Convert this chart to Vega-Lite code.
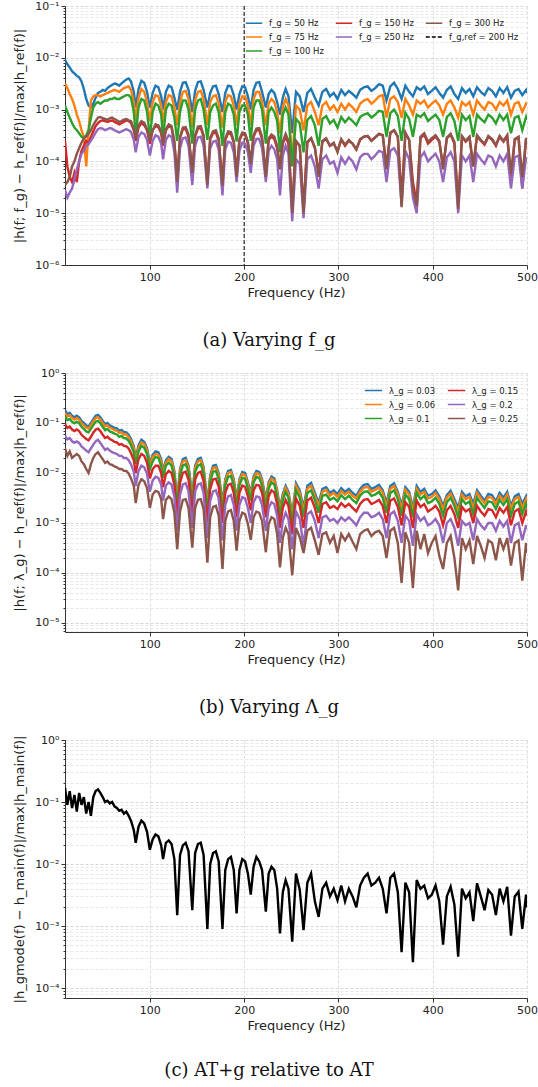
{
"$schema": "https://vega.github.io/schema/vega-lite/v6.json",
"padding": {"left": 13, "top": 0, "right": 0, "bottom": 0},
"config": {
 "view": {"stroke": null},
 "font": "DejaVu Sans",
 "axis": {"labelFont": "DejaVu Sans", "labelFontSize": 11, "labelColor": "#222", "titleFont": "DejaVu Sans", "titleFontSize": 13, "titleFontWeight": "normal", "titleColor": "#222", "domainColor": "#333", "tickColor": "#333", "labelPadding": 2, "tickSize": 4, "gridDash": [3, 2]},
 "axisX": {"titlePadding": 4},
 "axisY": {"titlePadding": 8}
},
"resolve": {"scale": {"color": "independent", "strokeDash": "independent"}, "legend": {"color": "independent", "strokeDash": "independent"}},
"datasets": {
 "names": [
  {"key": "a1", "name": "f_g = 50 Hz"}, {"key": "a2", "name": "f_g = 75 Hz"}, {"key": "a3", "name": "f_g = 100 Hz"},
  {"key": "a4", "name": "f_g = 150 Hz"}, {"key": "a5", "name": "f_g = 250 Hz"}, {"key": "a6", "name": "f_g = 300 Hz"},
  {"key": "b1", "name": "λ_g = 0.03"}, {"key": "b2", "name": "λ_g = 0.06"}, {"key": "b3", "name": "λ_g = 0.1"},
  {"key": "b4", "name": "λ_g = 0.15"}, {"key": "b5", "name": "λ_g = 0.2"}, {"key": "b6", "name": "λ_g = 0.25"}
 ],
 "ref": [{"f": 200, "name": "f_g,ref = 200 Hz"}],
 "D": [
{"f":10,"a1":9e-3,"a2":3.2e-3,"a3":1.2e-3,"a4":2.5e-4,"a5":2.8e-5,"a6":3.5e-5,"b1":0.18,"b2":0.16,"b3":0.135,"b4":0.095,"b5":0.056,"b6":0.031,"c":0.17},
{"f":12.5,"a1":7.5e-3,"a2":2.6e-3,"a3":9e-4,"a4":8e-5,"a5":2e-5,"a6":4e-5,"b1":0.15,"b2":0.135,"b3":0.114,"b4":0.08,"b5":0.047,"b6":0.022,"c":0.09},
{"f":15,"a1":6.5e-3,"a2":2e-3,"a3":7e-4,"a4":5e-5,"a5":2.5e-5,"a6":5e-5,"b1":0.16,"b2":0.144,"b3":0.12,"b4":0.085,"b5":0.05,"b6":0.027,"c":0.15},
{"f":17.5,"a1":5.5e-3,"a2":1.6e-3,"a3":5.5e-4,"a4":4e-5,"a5":3e-5,"a6":8e-5,"b1":0.14,"b2":0.126,"b3":0.106,"b4":0.074,"b5":0.043,"b6":0.02,"c":0.08},
{"f":20,"a1":5e-3,"a2":1.2e-3,"a3":4.5e-4,"a4":6e-5,"a5":4.5e-5,"a6":1e-4,"b1":0.13,"b2":0.117,"b3":0.099,"b4":0.069,"b5":0.04,"b6":0.022,"c":0.13},
{"f":22.5,"a1":4.5e-3,"a2":8e-4,"a3":4e-4,"a4":4e-5,"a5":7e-5,"a6":1.4e-4,"b1":0.14,"b2":0.126,"b3":0.106,"b4":0.074,"b5":0.043,"b6":0.024,"c":0.07},
{"f":25,"a1":4.2e-3,"a2":6e-4,"a3":3.5e-4,"a4":1e-4,"a5":1e-4,"a6":1.8e-4,"b1":0.13,"b2":0.117,"b3":0.099,"b4":0.069,"b5":0.04,"b6":0.022,"c":0.14},
{"f":27.5,"a1":3.5e-3,"a2":4e-4,"a3":3e-4,"a4":1.6e-4,"a5":1.4e-4,"a6":2.3e-4,"b1":0.11,"b2":0.099,"b3":0.084,"b4":0.058,"b5":0.034,"b6":0.017,"c":0.09},
{"f":30,"a1":2.5e-3,"a2":3e-4,"a3":2.8e-4,"a4":2e-4,"a5":1.6e-4,"a6":2.8e-4,"b1":0.1,"b2":0.09,"b3":0.076,"b4":0.053,"b5":0.031,"b6":0.015,"c":0.12},
{"f":32.5,"a1":1.6e-3,"a2":8e-5,"a3":3.2e-4,"a4":2.5e-4,"a5":2e-4,"a6":3e-4,"b1":0.09,"b2":0.081,"b3":0.068,"b4":0.048,"b5":0.028,"b6":0.012,"c":0.065},
{"f":35,"a1":1.2e-3,"a2":4e-4,"a3":4e-4,"a4":2.2e-4,"a5":2.2e-4,"a6":3.4e-4,"b1":0.085,"b2":0.077,"b3":0.065,"b4":0.045,"b5":0.026,"b6":0.01,"c":0.1},
{"f":37.5,"a1":1.1e-3,"a2":1.5e-3,"a3":7e-4,"a4":3e-4,"a5":2.5e-4,"a6":4e-4,"b1":0.1,"b2":0.09,"b3":0.076,"b4":0.053,"b5":0.031,"b6":0.015,"c":0.06},
{"f":40,"a1":1.3e-3,"a2":1.8e-3,"a3":1.1e-3,"a4":3.8e-4,"a5":3e-4,"a6":5e-4,"b1":0.12,"b2":0.108,"b3":0.091,"b4":0.064,"b5":0.037,"b6":0.02,"c":0.12},
{"f":42.5,"a1":1.7e-3,"a2":1.9e-3,"a3":1.3e-3,"a4":4.8e-4,"a5":3.6e-4,"a6":6e-4,"b1":0.14,"b2":0.126,"b3":0.106,"b4":0.074,"b5":0.043,"b6":0.024,"c":0.15},
{"f":45,"a1":2.1e-3,"a2":1.9e-3,"a3":1.4e-3,"a4":5.5e-4,"a5":4.2e-4,"a6":7e-4,"b1":0.145,"b2":0.13,"b3":0.11,"b4":0.077,"b5":0.046,"b6":0.026,"c":0.16},
{"f":47.5,"a1":2.2e-3,"a2":1.8e-3,"a3":1.3e-3,"a4":6e-4,"a5":4.4e-4,"a6":7.2e-4,"b1":0.13,"b2":0.117,"b3":0.099,"b4":0.069,"b5":0.04,"b6":0.022,"c":0.14},
{"f":50,"a1":2.4e-3,"a2":1.9e-3,"a3":1.4e-3,"a4":6.2e-4,"a5":4.3e-4,"a6":6.8e-4,"b1":0.11,"b2":0.099,"b3":0.084,"b4":0.058,"b5":0.034,"b6":0.019,"c":0.12},
{"f":52.5,"a1":2.3e-3,"a2":2e-3,"a3":1.5e-3,"a4":6e-4,"a5":4e-4,"a6":6.6e-4,"b1":0.095,"b2":0.086,"b3":0.072,"b4":0.05,"b5":0.029,"b6":0.016,"c":0.1},
{"f":55,"a1":2.6e-3,"a2":2.1e-3,"a3":1.5e-3,"a4":5.8e-4,"a5":4.2e-4,"a6":6.4e-4,"b1":0.1,"b2":0.09,"b3":0.076,"b4":0.053,"b5":0.031,"b6":0.017,"c":0.105},
{"f":57.5,"a1":2.8e-3,"a2":2.2e-3,"a3":1.6e-3,"a4":6e-4,"a5":4.4e-4,"a6":6.8e-4,"b1":0.09,"b2":0.081,"b3":0.068,"b4":0.048,"b5":0.028,"b6":0.015,"c":0.095},
{"f":60,"a1":3e-3,"a2":2.3e-3,"a3":1.6e-3,"a4":6.2e-4,"a5":4.3e-4,"a6":7e-4,"b1":0.085,"b2":0.077,"b3":0.065,"b4":0.045,"b5":0.026,"b6":0.0145,"c":0.1},
{"f":62.5,"a1":3.2e-3,"a2":2.4e-3,"a3":1.7e-3,"a4":5.8e-4,"a5":4e-4,"a6":6.6e-4,"b1":0.08,"b2":0.072,"b3":0.061,"b4":0.042,"b5":0.025,"b6":0.0135,"c":0.085},
{"f":65,"a1":3.1e-3,"a2":2.3e-3,"a3":1.6e-3,"a4":5.5e-4,"a5":3.8e-4,"a6":6.2e-4,"b1":0.078,"b2":0.07,"b3":0.059,"b4":0.041,"b5":0.024,"b6":0.013,"c":0.08},
{"f":67.5,"a1":2.9e-3,"a2":2.2e-3,"a3":1.6e-3,"a4":5.2e-4,"a5":3.6e-4,"a6":5.8e-4,"b1":0.07,"b2":0.063,"b3":0.053,"b4":0.037,"b5":0.022,"b6":0.012,"c":0.072},
{"f":70,"a1":3.2e-3,"a2":2.4e-3,"a3":1.7e-3,"a4":5.5e-4,"a5":3.8e-4,"a6":6e-4,"b1":0.072,"b2":0.065,"b3":0.055,"b4":0.038,"b5":0.022,"b6":0.012,"c":0.075},
{"f":72.5,"a1":3.5e-3,"a2":2.6e-3,"a3":1.8e-3,"a4":5.8e-4,"a5":4e-4,"a6":6.4e-4,"b1":0.066,"b2":0.059,"b3":0.05,"b4":0.035,"b5":0.02,"b6":0.011,"c":0.065},
{"f":75,"a1":3.8e-3,"a2":2.7e-3,"a3":1.9e-3,"a4":6.2e-4,"a5":4.2e-4,"a6":6.6e-4,"b1":0.065,"b2":0.059,"b3":0.049,"b4":0.034,"b5":0.02,"b6":0.011,"c":0.07},
{"f":77.5,"a1":4e-3,"a2":2.8e-3,"a3":1.9e-3,"a4":6e-4,"a5":4e-4,"a6":6.2e-4,"b1":0.058,"b2":0.052,"b3":0.044,"b4":0.031,"b5":0.018,"b6":0.0098,"c":0.06},
{"f":80,"a1":3.5e-3,"a2":2.4e-3,"a3":1.7e-3,"a4":5.5e-4,"a5":3.7e-4,"a6":6e-4,"b1":0.048,"b2":0.043,"b3":0.036,"b4":0.025,"b5":0.015,"b6":0.0078,"c":0.05},
{"f":83,"a1":2.2e-3,"a2":1.4e-3,"a3":9e-4,"a4":4e-4,"a5":2.6e-4,"a6":4.2e-4,"b1":0.034,"b2":0.031,"b3":0.026,"b4":0.018,"b5":0.0105,"b6":0.0055,"c":0.035},
{"f":85,"a1":1.1e-3,"a2":6e-4,"a3":3e-4,"a4":2.5e-4,"a5":1.5e-4,"a6":2.8e-4,"b1":0.02,"b2":0.018,"b3":0.015,"b4":0.01,"b5":0.0055,"b6":0.0025,"c":0.022},
{"f":88,"a1":2.5e-3,"a2":1.7e-3,"a3":1.1e-3,"a4":4.5e-4,"a5":3e-4,"a6":5e-4,"b1":0.036,"b2":0.032,"b3":0.027,"b4":0.019,"b5":0.011,"b6":0.0058,"c":0.04},
{"f":91,"a1":3.6e-3,"a2":2.5e-3,"a3":1.6e-3,"a4":5.5e-4,"a5":3.6e-4,"a6":6e-4,"b1":0.046,"b2":0.041,"b3":0.035,"b4":0.024,"b5":0.014,"b6":0.0075,"c":0.05},
{"f":94,"a1":3.3e-3,"a2":2.2e-3,"a3":1.5e-3,"a4":5e-4,"a5":3.4e-4,"a6":5.6e-4,"b1":0.042,"b2":0.038,"b3":0.032,"b4":0.022,"b5":0.013,"b6":0.0068,"c":0.045},
{"f":97,"a1":2.2e-3,"a2":1.4e-3,"a3":9e-4,"a4":4e-4,"a5":2.6e-4,"a6":4.2e-4,"b1":0.031,"b2":0.028,"b3":0.024,"b4":0.016,"b5":0.0096,"b6":0.005,"c":0.033},
{"f":100,"a1":1.1e-3,"a2":6e-4,"a3":3e-4,"a4":2.2e-4,"a5":1.3e-4,"a6":2.5e-4,"b1":0.016,"b2":0.014,"b3":0.012,"b4":0.0078,"b5":0.0042,"b6":0.002,"c":0.017},
{"f":103,"a1":2.1e-3,"a2":1.4e-3,"a3":9e-4,"a4":4e-4,"a5":2.5e-4,"a6":4e-4,"b1":0.023,"b2":0.021,"b3":0.017,"b4":0.012,"b5":0.0071,"b6":0.0037,"c":0.025},
{"f":106,"a1":2.9e-3,"a2":1.9e-3,"a3":1.3e-3,"a4":4.8e-4,"a5":3.2e-4,"a6":5.2e-4,"b1":0.027,"b2":0.024,"b3":0.021,"b4":0.014,"b5":0.0084,"b6":0.0044,"c":0.03},
{"f":109,"a1":2.7e-3,"a2":1.8e-3,"a3":1.2e-3,"a4":4.6e-4,"a5":3e-4,"a6":5e-4,"b1":0.026,"b2":0.023,"b3":0.02,"b4":0.014,"b5":0.008,"b6":0.0042,"c":0.028},
{"f":112,"a1":1.8e-3,"a2":1.2e-3,"a3":8e-4,"a4":3.5e-4,"a5":2.2e-4,"a6":3.8e-4,"b1":0.019,"b2":0.017,"b3":0.014,"b4":0.01,"b5":0.0059,"b6":0.003,"c":0.02},
{"f":114,"a1":1e-3,"a2":5.5e-4,"a3":2.8e-4,"a4":2e-4,"a5":1.1e-4,"a6":2.2e-4,"b1":0.011,"b2":0.0098,"b3":0.008,"b4":0.0052,"b5":0.0028,"b6":0.0012,"c":0.012},
{"f":117,"a1":2.2e-3,"a2":1.4e-3,"a3":1e-3,"a4":4e-4,"a5":2.6e-4,"a6":4.2e-4,"b1":0.018,"b2":0.016,"b3":0.014,"b4":0.0095,"b5":0.0056,"b6":0.0029,"c":0.022},
{"f":120,"a1":2.9e-3,"a2":1.9e-3,"a3":1.3e-3,"a4":4.8e-4,"a5":3.2e-4,"a6":5.2e-4,"b1":0.021,"b2":0.019,"b3":0.016,"b4":0.011,"b5":0.0065,"b6":0.0034,"c":0.024},
{"f":123,"a1":2.7e-3,"a2":1.8e-3,"a3":1.2e-3,"a4":4.5e-4,"a5":3e-4,"a6":4.8e-4,"b1":0.019,"b2":0.017,"b3":0.014,"b4":0.01,"b5":0.0059,"b6":0.003,"c":0.021},
{"f":126,"a1":1.7e-3,"a2":1.1e-3,"a3":7e-4,"a4":2.2e-4,"a5":1.5e-4,"a6":2.5e-4,"b1":0.011,"b2":0.0099,"b3":0.0084,"b4":0.0058,"b5":0.0034,"b6":0.0016,"c":0.012},
{"f":129,"a1":1e-3,"a2":5e-4,"a3":2.5e-4,"a4":5e-5,"a5":2.5e-5,"a6":4e-5,"b1":0.003,"b2":0.0026,"b3":0.002,"b4":0.0013,"b5":7e-4,"b6":3e-4,"c":1.5e-3},
{"f":132,"a1":2.2e-3,"a2":1.4e-3,"a3":9e-4,"a4":2.8e-4,"a5":1.8e-4,"a6":3e-4,"b1":0.012,"b2":0.011,"b3":0.0091,"b4":0.0064,"b5":0.0037,"b6":0.0017,"c":0.014},
{"f":135,"a1":3.3e-3,"a2":2.2e-3,"a3":1.5e-3,"a4":4.2e-4,"a5":2.8e-4,"a6":4.5e-4,"b1":0.019,"b2":0.017,"b3":0.014,"b4":0.01,"b5":0.0059,"b6":0.0029,"c":0.02},
{"f":138,"a1":3.4e-3,"a2":2.3e-3,"a3":1.5e-3,"a4":4.2e-4,"a5":2.9e-4,"a6":4.6e-4,"b1":0.02,"b2":0.018,"b3":0.015,"b4":0.0106,"b5":0.0062,"b6":0.003,"c":0.022},
{"f":141,"a1":2.4e-3,"a2":1.6e-3,"a3":1e-3,"a4":3e-4,"a5":2e-4,"a6":3.3e-4,"b1":0.014,"b2":0.0126,"b3":0.0106,"b4":0.0074,"b5":0.0043,"b6":0.002,"c":0.016},
{"f":145,"a1":9e-4,"a2":4.5e-4,"a3":2.2e-4,"a4":7e-5,"a5":3.5e-5,"a6":6e-5,"b1":0.0035,"b2":0.003,"b3":0.0024,"b4":0.0015,"b5":8e-4,"b6":3.2e-4,"c":1.8e-3},
{"f":148,"a1":2.3e-3,"a2":1.5e-3,"a3":1e-3,"a4":3e-4,"a5":2e-4,"a6":3.2e-4,"b1":0.014,"b2":0.0126,"b3":0.0106,"b4":0.0074,"b5":0.0043,"b6":0.002,"c":0.015},
{"f":151,"a1":3.4e-3,"a2":2.2e-3,"a3":1.5e-3,"a4":4.3e-4,"a5":2.9e-4,"a6":4.7e-4,"b1":0.019,"b2":0.017,"b3":0.014,"b4":0.01,"b5":0.0059,"b6":0.0029,"c":0.021},
{"f":154,"a1":3.5e-3,"a2":2.3e-3,"a3":1.6e-3,"a4":4.4e-4,"a5":3e-4,"a6":4.8e-4,"b1":0.02,"b2":0.018,"b3":0.015,"b4":0.0106,"b5":0.0062,"b6":0.003,"c":0.022},
{"f":157,"a1":2.4e-3,"a2":1.6e-3,"a3":1e-3,"a4":3e-4,"a5":2e-4,"a6":3.2e-4,"b1":0.013,"b2":0.0117,"b3":0.0099,"b4":0.0069,"b5":0.004,"b6":0.0019,"c":0.014},
{"f":161,"a1":1.1e-3,"a2":5e-4,"a3":2.6e-4,"a4":4e-5,"a5":3e-5,"a6":3.5e-5,"b1":0.0025,"b2":0.0021,"b3":0.0016,"b4":0.001,"b5":5e-4,"b6":1.6e-4,"c":9e-4},
{"f":164,"a1":2.1e-3,"a2":1.4e-3,"a3":9e-4,"a4":2.7e-4,"a5":1.8e-4,"a6":2.9e-4,"b1":0.009,"b2":0.0081,"b3":0.0068,"b4":0.0048,"b5":0.0028,"b6":0.0013,"c":0.01},
{"f":167,"a1":2.8e-3,"a2":1.8e-3,"a3":1.2e-3,"a4":3.5e-4,"a5":2.4e-4,"a6":3.8e-4,"b1":0.014,"b2":0.0126,"b3":0.0106,"b4":0.0074,"b5":0.0043,"b6":0.0021,"c":0.015},
{"f":170,"a1":2.9e-3,"a2":1.9e-3,"a3":1.3e-3,"a4":3.6e-4,"a5":2.5e-4,"a6":4e-4,"b1":0.0145,"b2":0.013,"b3":0.011,"b4":0.0077,"b5":0.0045,"b6":0.0022,"c":0.016},
{"f":173,"a1":2e-3,"a2":1.3e-3,"a3":9e-4,"a4":2.5e-4,"a5":1.7e-4,"a6":2.8e-4,"b1":0.01,"b2":0.009,"b3":0.0076,"b4":0.0053,"b5":0.0031,"b6":0.0014,"c":0.011},
{"f":177,"a1":9e-4,"a2":4.5e-4,"a3":2e-4,"a4":4e-5,"a5":2.2e-5,"a6":3.4e-5,"b1":0.0025,"b2":0.0021,"b3":0.0016,"b4":0.001,"b5":4.5e-4,"b6":1.2e-4,"c":9e-4},
{"f":180,"a1":2.1e-3,"a2":1.4e-3,"a3":9e-4,"a4":2.6e-4,"a5":1.7e-4,"a6":2.8e-4,"b1":0.0075,"b2":0.0068,"b3":0.0057,"b4":0.004,"b5":0.0023,"b6":0.0011,"c":0.008},
{"f":183,"a1":2.9e-3,"a2":1.9e-3,"a3":1.3e-3,"a4":3.5e-4,"a5":2.4e-4,"a6":3.8e-4,"b1":0.011,"b2":0.0099,"b3":0.0084,"b4":0.0058,"b5":0.0034,"b6":0.0017,"c":0.012},
{"f":186,"a1":2.8e-3,"a2":1.8e-3,"a3":1.2e-3,"a4":3.4e-4,"a5":2.3e-4,"a6":3.7e-4,"b1":0.0115,"b2":0.0104,"b3":0.0087,"b4":0.0061,"b5":0.0036,"b6":0.0018,"c":0.013},
{"f":189,"a1":1.9e-3,"a2":1.2e-3,"a3":8e-4,"a4":2.3e-4,"a5":1.5e-4,"a6":2.5e-4,"b1":0.0075,"b2":0.0068,"b3":0.0057,"b4":0.004,"b5":0.0023,"b6":0.0011,"c":0.008},
{"f":192,"a1":1e-3,"a2":5e-4,"a3":2.4e-4,"a4":6e-5,"a5":4e-5,"a6":5e-5,"b1":0.003,"b2":0.0026,"b3":0.002,"b4":0.0013,"b5":7e-4,"b6":2.8e-4,"c":1.6e-3},
{"f":195,"a1":2e-3,"a2":1.3e-3,"a3":9e-4,"a4":2.5e-4,"a5":1.6e-4,"a6":2.7e-4,"b1":0.0075,"b2":0.0068,"b3":0.0057,"b4":0.004,"b5":0.0023,"b6":0.0011,"c":0.008},
{"f":198,"a1":2.8e-3,"a2":1.8e-3,"a3":1.2e-3,"a4":3.4e-4,"a5":2.3e-4,"a6":3.6e-4,"b1":0.0105,"b2":0.0095,"b3":0.008,"b4":0.0056,"b5":0.0033,"b6":0.0016,"c":0.012},
{"f":201,"a1":2.7e-3,"a2":1.8e-3,"a3":1.2e-3,"a4":3.3e-4,"a5":2.2e-4,"a6":3.5e-4,"b1":0.01,"b2":0.009,"b3":0.0076,"b4":0.0053,"b5":0.0031,"b6":0.0015,"c":0.011},
{"f":204,"a1":1.8e-3,"a2":1.2e-3,"a3":8e-4,"a4":2.2e-4,"a5":1.5e-4,"a6":2.4e-4,"b1":0.0065,"b2":0.0059,"b3":0.0049,"b4":0.0034,"b5":0.002,"b6":9.5e-4,"c":0.007},
{"f":207,"a1":1e-3,"a2":5e-4,"a3":2.5e-4,"a4":1e-4,"a5":6e-5,"a6":9e-5,"b1":0.004,"b2":0.0035,"b3":0.0028,"b4":0.0018,"b5":0.001,"b6":4.6e-4,"c":3.2e-3},
{"f":210,"a1":2.4e-3,"a2":1.6e-3,"a3":1.1e-3,"a4":3e-4,"a5":2e-4,"a6":3.2e-4,"b1":0.0085,"b2":0.0077,"b3":0.0065,"b4":0.0045,"b5":0.0026,"b6":0.0013,"c":0.009},
{"f":213,"a1":3.3e-3,"a2":2.2e-3,"a3":1.5e-3,"a4":4e-4,"a5":2.7e-4,"a6":4.3e-4,"b1":0.011,"b2":0.0099,"b3":0.0084,"b4":0.0058,"b5":0.0034,"b6":0.0017,"c":0.013},
{"f":216,"a1":3.4e-3,"a2":2.2e-3,"a3":1.5e-3,"a4":4e-4,"a5":2.7e-4,"a6":4.4e-4,"b1":0.0105,"b2":0.0095,"b3":0.008,"b4":0.0056,"b5":0.0033,"b6":0.0016,"c":0.011},
{"f":219,"a1":2.2e-3,"a2":1.4e-3,"a3":1e-3,"a4":2.7e-4,"a5":1.8e-4,"a6":3e-4,"b1":0.0075,"b2":0.0068,"b3":0.0057,"b4":0.004,"b5":0.0023,"b6":0.0011,"c":0.008},
{"f":223,"a1":1.1e-3,"a2":5e-4,"a3":2.2e-4,"a4":6e-5,"a5":4e-5,"a6":5e-5,"b1":0.003,"b2":0.0026,"b3":0.002,"b4":0.0013,"b5":7e-4,"b6":2.6e-4,"c":1.7e-3},
{"f":226,"a1":2e-3,"a2":1.3e-3,"a3":9e-4,"a4":2.6e-4,"a5":1.6e-4,"a6":2.8e-4,"b1":0.0065,"b2":0.0059,"b3":0.0049,"b4":0.0034,"b5":0.002,"b6":9.5e-4,"c":0.007},
{"f":229,"a1":2.4e-3,"a2":1.6e-3,"a3":1.1e-3,"a4":3e-4,"a5":2e-4,"a6":3.3e-4,"b1":0.0085,"b2":0.0077,"b3":0.0065,"b4":0.0045,"b5":0.0026,"b6":0.0013,"c":0.009},
{"f":232,"a1":2.1e-3,"a2":1.4e-3,"a3":9e-4,"a4":2.7e-4,"a5":1.7e-4,"a6":3e-4,"b1":0.0078,"b2":0.007,"b3":0.0059,"b4":0.0041,"b5":0.0024,"b6":0.0012,"c":0.008},
{"f":235,"a1":1.4e-3,"a2":9e-4,"a3":6e-4,"a4":1.8e-4,"a5":1.1e-4,"a6":2e-4,"b1":0.0045,"b2":0.0041,"b3":0.0034,"b4":0.0024,"b5":0.0014,"b6":6e-4,"c":0.004},
{"f":238,"a1":8e-4,"a2":3.5e-4,"a3":1.5e-4,"a4":8e-5,"a5":2.2e-5,"a6":7e-5,"b1":0.002,"b2":0.0017,"b3":0.0013,"b4":8e-4,"b5":4e-4,"b6":1.3e-4,"c":7.6e-4},
{"f":241,"a1":1.7e-3,"a2":1.1e-3,"a3":8e-4,"a4":2.2e-4,"a5":1.3e-4,"a6":2.4e-4,"b1":0.0038,"b2":0.0034,"b3":0.0029,"b4":0.002,"b5":0.0011,"b6":5e-4,"c":0.0035},
{"f":244,"a1":2.5e-3,"a2":1.6e-3,"a3":1.1e-3,"a4":3e-4,"a5":2e-4,"a6":3.4e-4,"b1":0.0055,"b2":0.005,"b3":0.0042,"b4":0.0029,"b5":0.0016,"b6":8e-4,"c":0.0055},
{"f":247,"a1":1.8e-3,"a2":1.2e-3,"a3":8e-4,"a4":2.2e-4,"a5":1.4e-4,"a6":2.5e-4,"b1":0.0042,"b2":0.0038,"b3":0.0032,"b4":0.0022,"b5":0.0012,"b6":6e-4,"c":0.004},
{"f":251,"a1":3.5e-4,"a2":1e-4,"a3":8e-5,"a4":1.2e-5,"a5":7e-6,"a6":1e-5,"b1":0.0015,"b2":0.0013,"b3":0.001,"b4":6e-4,"b5":3e-4,"b6":9e-5,"c":5.6e-4},
{"f":255,"a1":2.2e-3,"a2":1.2e-3,"a3":6.6e-4,"a4":2.4e-4,"a5":1.1e-4,"a6":2.5e-4,"b1":0.0062,"b2":0.0055,"b3":0.0045,"b4":0.0031,"b5":0.0017,"b6":8e-4,"c":0.007},
{"f":259,"a1":1.8e-3,"a2":1e-3,"a3":5.4e-4,"a4":2e-4,"a5":9e-5,"a6":2e-4,"b1":0.0045,"b2":0.004,"b3":0.0032,"b4":0.0022,"b5":0.0012,"b6":5.2e-4,"c":0.0038},
{"f":263,"a1":9e-4,"a2":4e-4,"a3":1.5e-4,"a4":1.2e-5,"a5":8e-6,"a6":1e-5,"b1":0.002,"b2":0.0017,"b3":0.0013,"b4":8e-4,"b5":3.5e-4,"b6":2.5e-4,"c":8.6e-4},
{"f":267,"a1":2.1e-3,"a2":1.2e-3,"a3":6.3e-4,"a4":2.3e-4,"a5":1.1e-4,"a6":2.4e-4,"b1":0.0055,"b2":0.0048,"b3":0.004,"b4":0.0028,"b5":0.0015,"b6":7e-4,"c":0.005},
{"f":271,"a1":2.5e-3,"a2":1.4e-3,"a3":7.5e-4,"a4":2.8e-4,"a5":1.3e-4,"a6":2.8e-4,"b1":0.0063,"b2":0.0055,"b3":0.0045,"b4":0.0032,"b5":0.0017,"b6":8e-4,"c":0.007},
{"f":275,"a1":1.7e-3,"a2":9e-4,"a3":5e-4,"a4":1.8e-4,"a5":8e-5,"a6":1.9e-4,"b1":0.004,"b2":0.0035,"b3":0.0029,"b4":0.002,"b5":0.0011,"b6":4.5e-4,"c":0.0025},
{"f":279,"a1":1.2e-3,"a2":5e-4,"a3":2e-4,"a4":6e-5,"a5":3e-5,"a6":5e-5,"b1":0.0025,"b2":0.0021,"b3":0.0016,"b4":0.001,"b5":5e-4,"b6":2.3e-4,"c":0.0014},
{"f":283,"a1":2.2e-3,"a2":1.2e-3,"a3":6.6e-4,"a4":2.4e-4,"a5":1.1e-4,"a6":2.5e-4,"b1":0.0048,"b2":0.0042,"b3":0.0035,"b4":0.0024,"b5":0.0013,"b6":6e-4,"c":0.004},
{"f":287,"a1":2.5e-3,"a2":1.4e-3,"a3":7.5e-4,"a4":2.7e-4,"a5":1.3e-4,"a6":2.8e-4,"b1":0.0052,"b2":0.0046,"b3":0.0037,"b4":0.0026,"b5":0.0014,"b6":6.5e-4,"c":0.005},
{"f":291,"a1":1.8e-3,"a2":1e-3,"a3":5.4e-4,"a4":2e-4,"a5":9e-5,"a6":2e-4,"b1":0.004,"b2":0.0035,"b3":0.0029,"b4":0.002,"b5":0.0011,"b6":4e-4,"c":0.003},
{"f":295,"a1":2.1e-3,"a2":1.2e-3,"a3":6.3e-4,"a4":2.2e-4,"a5":1e-4,"a6":2.3e-4,"b1":0.0045,"b2":0.004,"b3":0.0032,"b4":0.0022,"b5":0.0012,"b6":5.5e-4,"c":0.004},
{"f":299,"a1":1.6e-3,"a2":9e-4,"a3":4.5e-4,"a4":1.6e-4,"a5":6e-5,"a6":1.5e-4,"b1":0.0038,"b2":0.0033,"b3":0.0027,"b4":0.0019,"b5":0.001,"b6":2.5e-4,"c":0.0026},
{"f":303,"a1":2.4e-3,"a2":1.3e-3,"a3":7.2e-4,"a4":2.6e-4,"a5":1.2e-4,"a6":2.7e-4,"b1":0.005,"b2":0.0044,"b3":0.0036,"b4":0.0025,"b5":0.0013,"b6":6e-4,"c":0.0045},
{"f":307,"a1":1.9e-3,"a2":1e-3,"a3":5.7e-4,"a4":2e-4,"a5":9e-5,"a6":2.1e-4,"b1":0.0042,"b2":0.0037,"b3":0.003,"b4":0.0021,"b5":0.0011,"b6":4.5e-4,"c":0.0025},
{"f":311,"a1":2.3e-3,"a2":1.3e-3,"a3":7e-4,"a4":2.5e-4,"a5":1.2e-4,"a6":2.6e-4,"b1":0.0048,"b2":0.0042,"b3":0.0035,"b4":0.0024,"b5":0.0013,"b6":6e-4,"c":0.004},
{"f":315,"a1":2e-3,"a2":1.1e-3,"a3":6e-4,"a4":2.2e-4,"a5":1e-4,"a6":2.2e-4,"b1":0.004,"b2":0.0035,"b3":0.0029,"b4":0.002,"b5":0.0011,"b6":4.2e-4,"c":0.003},
{"f":319,"a1":1.7e-3,"a2":9e-4,"a3":5e-4,"a4":1.7e-4,"a5":7e-5,"a6":1.7e-4,"b1":0.0035,"b2":0.0031,"b3":0.0025,"b4":0.0017,"b5":9e-4,"b6":3e-4,"c":0.002},
{"f":323,"a1":2.4e-3,"a2":1.3e-3,"a3":7.2e-4,"a4":2.6e-4,"a5":1.2e-4,"a6":2.7e-4,"b1":0.0048,"b2":0.0042,"b3":0.0035,"b4":0.0024,"b5":0.0013,"b6":6e-4,"c":0.0045},
{"f":327,"a1":2.7e-3,"a2":1.5e-3,"a3":8e-4,"a4":3e-4,"a5":1.4e-4,"a6":3e-4,"b1":0.0058,"b2":0.0051,"b3":0.0042,"b4":0.0029,"b5":0.0016,"b6":7e-4,"c":0.006},
{"f":331,"a1":2.8e-3,"a2":1.6e-3,"a3":8.5e-4,"a4":3.1e-4,"a5":1.4e-4,"a6":3.1e-4,"b1":0.006,"b2":0.0053,"b3":0.0043,"b4":0.003,"b5":0.0016,"b6":7.5e-4,"c":0.007},
{"f":335,"a1":2.3e-3,"a2":1.3e-3,"a3":7e-4,"a4":2.5e-4,"a5":1.1e-4,"a6":2.5e-4,"b1":0.0048,"b2":0.0042,"b3":0.0035,"b4":0.0024,"b5":0.0013,"b6":5.5e-4,"c":0.0045},
{"f":339,"a1":2.6e-3,"a2":1.5e-3,"a3":8e-4,"a4":2.9e-4,"a5":1.3e-4,"a6":2.9e-4,"b1":0.0052,"b2":0.0046,"b3":0.0037,"b4":0.0026,"b5":0.0014,"b6":6.5e-4,"c":0.005},
{"f":343,"a1":3.1e-3,"a2":1.8e-3,"a3":9.5e-4,"a4":3.4e-4,"a5":1.6e-4,"a6":3.4e-4,"b1":0.0058,"b2":0.0051,"b3":0.0042,"b4":0.0029,"b5":0.0016,"b6":7e-4,"c":0.006},
{"f":347,"a1":2.9e-3,"a2":1.9e-3,"a3":9e-4,"a4":3.2e-4,"a5":1.5e-4,"a6":3.2e-4,"b1":0.0045,"b2":0.004,"b3":0.0032,"b4":0.0022,"b5":0.0012,"b6":5.5e-4,"c":0.004},
{"f":351,"a1":1.5e-3,"a2":7e-4,"a3":3e-4,"a4":8e-5,"a5":4e-5,"a6":7e-5,"b1":0.0025,"b2":0.0021,"b3":0.0016,"b4":0.001,"b5":5e-4,"b6":2e-4,"c":0.0016},
{"f":355,"a1":2.8e-3,"a2":1.6e-3,"a3":8.5e-4,"a4":3.5e-4,"a5":1.6e-4,"a6":3.6e-4,"b1":0.0055,"b2":0.0048,"b3":0.004,"b4":0.0028,"b5":0.0015,"b6":7e-4,"c":0.006},
{"f":359,"a1":3.3e-3,"a2":1.8e-3,"a3":1e-3,"a4":4e-4,"a5":1.8e-4,"a6":4e-4,"b1":0.0062,"b2":0.0055,"b3":0.0045,"b4":0.0031,"b5":0.0017,"b6":8e-4,"c":0.007},
{"f":363,"a1":2.5e-3,"a2":1.4e-3,"a3":7.5e-4,"a4":3e-4,"a5":1.3e-4,"a6":3e-4,"b1":0.0042,"b2":0.0037,"b3":0.003,"b4":0.0021,"b5":0.0011,"b6":4e-4,"c":0.0035},
{"f":367,"a1":1.6e-3,"a2":7e-4,"a3":2.5e-4,"a4":2e-5,"a5":1.4e-5,"a6":1.3e-5,"b1":0.0022,"b2":0.0019,"b3":0.0014,"b4":9e-4,"b5":4e-4,"b6":6.3e-5,"c":3.8e-4},
{"f":371,"a1":2.9e-3,"a2":1.6e-3,"a3":8.7e-4,"a4":3.5e-4,"a5":1.6e-4,"a6":3.6e-4,"b1":0.0052,"b2":0.0046,"b3":0.0037,"b4":0.0026,"b5":0.0014,"b6":6.5e-4,"c":0.005},
{"f":375,"a1":2.2e-3,"a2":1.2e-3,"a3":6.6e-4,"a4":2.6e-4,"a5":1.1e-4,"a6":2.6e-4,"b1":0.0042,"b2":0.0037,"b3":0.003,"b4":0.0021,"b5":0.0011,"b6":4e-4,"c":0.0035},
{"f":379,"a1":1.8e-3,"a2":8e-4,"a3":3e-4,"a4":4e-5,"a5":2e-5,"a6":3e-5,"b1":0.002,"b2":0.0017,"b3":0.0013,"b4":8e-4,"b5":3.5e-4,"b6":5e-5,"c":2.6e-4},
{"f":383,"a1":2.7e-3,"a2":1.5e-3,"a3":8e-4,"a4":1.6e-5,"a5":1e-5,"a6":1.4e-5,"b1":0.0055,"b2":0.0048,"b3":0.004,"b4":0.0028,"b5":0.0015,"b6":7e-4,"c":0.0055},
{"f":387,"a1":2.4e-3,"a2":1.3e-3,"a3":7.2e-4,"a4":2.8e-4,"a5":1.2e-4,"a6":3e-4,"b1":0.0042,"b2":0.0037,"b3":0.003,"b4":0.0021,"b5":0.0011,"b6":3e-4,"c":0.004},
{"f":391,"a1":2.8e-3,"a2":1.5e-3,"a3":8.5e-4,"a4":3.3e-4,"a5":1.5e-4,"a6":3.5e-4,"b1":0.0048,"b2":0.0042,"b3":0.0035,"b4":0.0024,"b5":0.0013,"b6":6e-4,"c":0.0045},
{"f":395,"a1":2e-3,"a2":1.1e-3,"a3":6e-4,"a4":2.2e-4,"a5":1e-4,"a6":2.4e-4,"b1":0.0035,"b2":0.0031,"b3":0.0025,"b4":0.0017,"b5":9e-4,"b6":2.5e-4,"c":0.0028},
{"f":399,"a1":2.3e-3,"a2":1.3e-3,"a3":7e-4,"a4":2.6e-4,"a5":1.2e-4,"a6":2.8e-4,"b1":0.0038,"b2":0.0033,"b3":0.0027,"b4":0.0019,"b5":0.001,"b6":4e-4,"c":0.0032},
{"f":403,"a1":2.7e-3,"a2":1.5e-3,"a3":8e-4,"a4":3e-4,"a5":1.4e-4,"a6":3.2e-4,"b1":0.0045,"b2":0.004,"b3":0.0032,"b4":0.0022,"b5":0.0012,"b6":5.5e-4,"c":0.0045},
{"f":407,"a1":2.1e-3,"a2":1.2e-3,"a3":6.3e-4,"a4":2.4e-4,"a5":1e-4,"a6":2.5e-4,"b1":0.0034,"b2":0.003,"b3":0.0024,"b4":0.0017,"b5":9e-4,"b6":2.2e-4,"c":0.0025},
{"f":411,"a1":1.7e-3,"a2":8e-4,"a3":3e-4,"a4":8e-5,"a5":4e-5,"a6":7e-5,"b1":0.0022,"b2":0.0019,"b3":0.0014,"b4":9e-4,"b5":4e-4,"b6":1.2e-4,"c":5e-4},
{"f":415,"a1":2.4e-3,"a2":1.3e-3,"a3":7.2e-4,"a4":2.8e-4,"a5":1.2e-4,"a6":2.9e-4,"b1":0.0036,"b2":0.0032,"b3":0.0026,"b4":0.0018,"b5":0.001,"b6":4e-4,"c":0.003},
{"f":419,"a1":2.8e-3,"a2":1.5e-3,"a3":8.5e-4,"a4":3.3e-4,"a5":1.5e-4,"a6":3.4e-4,"b1":0.0044,"b2":0.0039,"b3":0.0032,"b4":0.0022,"b5":0.0012,"b6":5.5e-4,"c":0.0043},
{"f":423,"a1":2e-3,"a2":1.1e-3,"a3":6e-4,"a4":2.2e-4,"a5":1e-4,"a6":2.4e-4,"b1":0.003,"b2":0.0026,"b3":0.0022,"b4":0.0015,"b5":8e-4,"b6":2e-4,"c":0.0022},
{"f":427,"a1":1.6e-3,"a2":7e-4,"a3":2.5e-4,"a4":1.4e-5,"a5":1e-5,"a6":1.2e-5,"b1":0.002,"b2":0.0017,"b3":0.0013,"b4":8e-4,"b5":3.5e-4,"b6":4.5e-5,"c":3.2e-4},
{"f":431,"a1":2.6e-3,"a2":1.4e-3,"a3":8e-4,"a4":3e-4,"a5":1.3e-4,"a6":3.1e-4,"b1":0.0042,"b2":0.0037,"b3":0.003,"b4":0.0021,"b5":0.0011,"b6":5e-4,"c":0.004},
{"f":435,"a1":2.1e-3,"a2":1.2e-3,"a3":6.3e-4,"a4":2.4e-4,"a5":1e-4,"a6":2.5e-4,"b1":0.0034,"b2":0.003,"b3":0.0024,"b4":0.0017,"b5":9e-4,"b6":3e-4,"c":0.0028},
{"f":439,"a1":2.5e-3,"a2":1.4e-3,"a3":7.5e-4,"a4":2.9e-4,"a5":1.3e-4,"a6":3e-4,"b1":0.0038,"b2":0.0033,"b3":0.0027,"b4":0.0019,"b5":0.001,"b6":4.5e-4,"c":0.0035},
{"f":443,"a1":1.8e-3,"a2":8e-4,"a3":3e-4,"a4":8e-5,"a5":4e-5,"a6":8e-5,"b1":0.0024,"b2":0.002,"b3":0.0015,"b4":0.001,"b5":4.5e-4,"b6":1.5e-4,"c":0.0012},
{"f":447,"a1":2.7e-3,"a2":1.5e-3,"a3":8e-4,"a4":3.1e-4,"a5":1.4e-4,"a6":3.2e-4,"b1":0.0045,"b2":0.004,"b3":0.0032,"b4":0.0022,"b5":0.0012,"b6":5.5e-4,"c":0.0049},
{"f":451,"a1":2.2e-3,"a2":1.2e-3,"a3":6.6e-4,"a4":2.5e-4,"a5":1.1e-4,"a6":2.6e-4,"b1":0.0035,"b2":0.0031,"b3":0.0025,"b4":0.0017,"b5":9e-4,"b6":3.5e-4,"c":0.003},
{"f":455,"a1":1.9e-3,"a2":1e-3,"a3":5.7e-4,"a4":2.1e-4,"a5":9e-5,"a6":2.2e-4,"b1":0.0028,"b2":0.0025,"b3":0.002,"b4":0.0014,"b5":7.5e-4,"b6":2e-4,"c":0.0018},
{"f":459,"a1":2.6e-3,"a2":1.4e-3,"a3":8e-4,"a4":3e-4,"a5":1.3e-4,"a6":3.1e-4,"b1":0.0038,"b2":0.0033,"b3":0.0027,"b4":0.0019,"b5":0.001,"b6":4.5e-4,"c":0.0038},
{"f":463,"a1":2.3e-3,"a2":1.3e-3,"a3":7e-4,"a4":2.6e-4,"a5":1.2e-4,"a6":2.7e-4,"b1":0.0036,"b2":0.0032,"b3":0.0026,"b4":0.0018,"b5":0.001,"b6":4e-4,"c":0.0032},
{"f":467,"a1":1.8e-3,"a2":1e-3,"a3":5.4e-4,"a4":2e-4,"a5":8e-5,"a6":2.1e-4,"b1":0.0027,"b2":0.0024,"b3":0.0019,"b4":0.0013,"b5":7e-4,"b6":1.8e-4,"c":0.0015},
{"f":471,"a1":2.6e-3,"a2":1.4e-3,"a3":8e-4,"a4":3e-4,"a5":1.3e-4,"a6":3.1e-4,"b1":0.004,"b2":0.0035,"b3":0.0029,"b4":0.002,"b5":0.0011,"b6":5e-4,"c":0.004},
{"f":475,"a1":2.1e-3,"a2":1.2e-3,"a3":6.3e-4,"a4":2.4e-4,"a5":1e-4,"a6":2.5e-4,"b1":0.0032,"b2":0.0028,"b3":0.0023,"b4":0.0016,"b5":8.5e-4,"b6":3e-4,"c":0.0025},
{"f":479,"a1":2.7e-3,"a2":1.5e-3,"a3":8e-4,"a4":3.1e-4,"a5":1.4e-4,"a6":3.2e-4,"b1":0.0042,"b2":0.0037,"b3":0.003,"b4":0.0021,"b5":0.0011,"b6":5e-4,"c":0.0043},
{"f":483,"a1":1.7e-3,"a2":8e-4,"a3":3.5e-4,"a4":4e-5,"a5":3e-5,"a6":6e-5,"b1":0.0022,"b2":0.0019,"b3":0.0014,"b4":9e-4,"b5":4e-4,"b6":1.4e-4,"c":7e-4},
{"f":487,"a1":2.3e-3,"a2":1.3e-3,"a3":7e-4,"a4":2.6e-4,"a5":1.2e-4,"a6":2.7e-4,"b1":0.0034,"b2":0.003,"b3":0.0024,"b4":0.0017,"b5":9e-4,"b6":4e-4,"c":0.003},
{"f":491,"a1":2.5e-3,"a2":1.4e-3,"a3":7.5e-4,"a4":2.9e-4,"a5":1.3e-4,"a6":3e-4,"b1":0.0038,"b2":0.0033,"b3":0.0027,"b4":0.0019,"b5":0.001,"b6":4.5e-4,"c":0.0036},
{"f":495,"a1":1.9e-3,"a2":9e-4,"a3":4e-4,"a4":3e-5,"a5":3e-5,"a6":5e-5,"b1":0.0024,"b2":0.002,"b3":0.0015,"b4":0.001,"b5":4.5e-4,"b6":7e-5,"c":9e-4},
{"f":499,"a1":2.4e-3,"a2":1.3e-3,"a3":7.2e-4,"a4":2.7e-4,"a5":1.2e-4,"a6":2.8e-4,"b1":0.0034,"b2":0.003,"b3":0.0024,"b4":0.0017,"b5":9e-4,"b6":4e-4,"c":0.0032},
{"f":500,"a1":2.1e-3,"a2":1.2e-3,"a3":6.3e-4,"a4":2.4e-4,"a5":1e-4,"a6":2.5e-4,"b1":0.0028,"b2":0.0025,"b3":0.002,"b4":0.0014,"b5":7.5e-4,"b6":2.5e-4,"c":0.002}
 ]
},
"spacing": 17,
"vconcat": [
 {
  "width": 462, "height": 259,
  "title": {"text": "(a) Varying f_g", "orient": "bottom", "font": "DejaVu Serif", "fontSize": 18, "fontWeight": "normal", "color": "#111", "offset": 33, "dx": -27},
  "layer": [
   {
    "data": {"name": "ref"},
    "mark": {"type": "rule", "strokeWidth": 1},
    "encoding": {
     "x": {"field": "f", "type": "quantitative", "scale": {"domain": [10, 500], "nice": false, "zero": false}},
     "color": {"field": "name", "type": "nominal",
      "scale": {"domain": ["f_g = 50 Hz", "f_g = 75 Hz", "f_g = 100 Hz", "f_g = 150 Hz", "f_g = 250 Hz", " ", "f_g = 300 Hz", "f_g,ref = 200 Hz"], "range": ["#1f77b4", "#ff7f0e", "#2ca02c", "#d62728", "#9467bd", "rgba(0,0,0,0)", "#8c564b", "#000000"]},
      "legend": {"orient": "top-right", "columns": 3, "title": null, "labelFont": "DejaVu Sans", "labelFontSize": 8.5, "labelColor": "#222", "symbolType": "stroke", "symbolSize": 270, "symbolStrokeWidth": 1.5, "columnPadding": 8, "rowPadding": 0, "offset": 8, "padding": 0, "labelOffset": 6, "labelLimit": 200}},
     "strokeDash": {"field": "name", "type": "nominal",
      "scale": {"domain": ["f_g = 50 Hz", "f_g = 75 Hz", "f_g = 100 Hz", "f_g = 150 Hz", "f_g = 250 Hz", " ", "f_g = 300 Hz", "f_g,ref = 200 Hz"], "range": [[1, 0], [1, 0], [1, 0], [1, 0], [1, 0], [1, 0], [1, 0], [4, 2]]},
      "legend": {"orient": "top-right", "columns": 3, "title": null, "labelFont": "DejaVu Sans", "labelFontSize": 8.5, "labelColor": "#222", "symbolType": "stroke", "symbolSize": 270, "symbolStrokeWidth": 1.5, "columnPadding": 8, "rowPadding": 0, "offset": 8, "padding": 0, "labelOffset": 6, "labelLimit": 200}}
    }
   },
   {
    "data": {"name": "D"},
    "transform": [
     {"fold": ["a1", "a2", "a3", "a4", "a5", "a6"], "as": ["key", "val"]},
     {"lookup": "key", "from": {"data": {"name": "names"}, "key": "key", "fields": ["name"]}}
    ],
    "mark": {"type": "line", "strokeWidth": 2.4, "clip": true},
    "encoding": {
     "x": {"field": "f", "type": "quantitative", "scale": {"domain": [10, 500], "nice": false, "zero": false},
      "axis": {"title": "Frequency (Hz)", "values": [100, 200, 300, 400, 500], "grid": true, "gridColor": "#dddddd", "labelFlush": false}},
     "y": {"field": "val", "type": "quantitative", "scale": {"type": "log", "domain": [1e-6, 0.1], "nice": false},
      "axis": {"title": "|h(f; f_g) − h_ref(f)|/max|h_ref(f)|",
       "values": [1e-6,2e-6,3e-6,4e-6,5e-6,6e-6,7e-6,8e-6,9e-6,1e-5,2e-5,3e-5,4e-5,5e-5,6e-5,7e-5,8e-5,9e-5,1e-4,2e-4,3e-4,4e-4,5e-4,6e-4,7e-4,8e-4,9e-4,1e-3,2e-3,3e-3,4e-3,5e-3,6e-3,7e-3,8e-3,9e-3,1e-2,2e-2,3e-2,4e-2,5e-2,6e-2,7e-2,8e-2,9e-2,0.1],
       "labelOverlap": false, "grid": true,
       "labelExpr": "abs(log(datum.value)/LN10-round(log(datum.value)/LN10))<0.01 ? '10' + ['⁰','⁻¹','⁻²','⁻³','⁻⁴','⁻⁵','⁻⁶'][round(-log(datum.value)/LN10)] : ''",
       "tickSize": {"condition": {"test": "abs(log(datum.value)/LN10-round(log(datum.value)/LN10))<0.01", "value": 4}, "value": 2},
       "gridColor": {"condition": {"test": "abs(log(datum.value)/LN10-round(log(datum.value)/LN10))<0.01", "value": "#d6d6d6"}, "value": "#e8e8e8"}}},
     "color": {"field": "name", "type": "nominal",
      "scale": {"domain": ["f_g = 50 Hz", "f_g = 75 Hz", "f_g = 100 Hz", "f_g = 150 Hz", "f_g = 250 Hz", " ", "f_g = 300 Hz", "f_g,ref = 200 Hz"], "range": ["#1f77b4", "#ff7f0e", "#2ca02c", "#d62728", "#9467bd", "rgba(0,0,0,0)", "#8c564b", "#000000"]},
      "legend": {"orient": "top-right", "columns": 3, "title": null, "labelFont": "DejaVu Sans", "labelFontSize": 8.5, "labelColor": "#222", "symbolType": "stroke", "symbolSize": 270, "symbolStrokeWidth": 1.5, "columnPadding": 8, "rowPadding": 0, "offset": 8, "padding": 0, "labelOffset": 6, "labelLimit": 200}},
     "strokeDash": {"field": "name", "type": "nominal",
      "scale": {"domain": ["f_g = 50 Hz", "f_g = 75 Hz", "f_g = 100 Hz", "f_g = 150 Hz", "f_g = 250 Hz", " ", "f_g = 300 Hz", "f_g,ref = 200 Hz"], "range": [[1, 0], [1, 0], [1, 0], [1, 0], [1, 0], [1, 0], [1, 0], [4, 2]]},
      "legend": {"orient": "top-right", "columns": 3, "title": null, "labelFont": "DejaVu Sans", "labelFontSize": 8.5, "labelColor": "#222", "symbolType": "stroke", "symbolSize": 270, "symbolStrokeWidth": 1.5, "columnPadding": 8, "rowPadding": 0, "offset": 8, "padding": 0, "labelOffset": 6, "labelLimit": 200}}
    }
   }
  ]
 },
 {
  "width": 462, "height": 259,
  "title": {"text": "(b) Varying Λ_g", "orient": "bottom", "font": "DejaVu Serif", "fontSize": 18, "fontWeight": "normal", "color": "#111", "offset": 33, "dx": -27},
  "data": {"name": "D"},
  "transform": [
   {"fold": ["b1", "b2", "b3", "b4", "b5", "b6"], "as": ["key", "val"]},
   {"lookup": "key", "from": {"data": {"name": "names"}, "key": "key", "fields": ["name"]}}
  ],
  "mark": {"type": "line", "strokeWidth": 2.4, "clip": true},
  "encoding": {
   "x": {"field": "f", "type": "quantitative", "scale": {"domain": [10, 500], "nice": false, "zero": false},
    "axis": {"title": "Frequency (Hz)", "values": [100, 200, 300, 400, 500], "grid": true, "gridColor": "#dddddd", "labelFlush": false}},
   "y": {"field": "val", "type": "quantitative", "scale": {"type": "log", "domain": [6.6e-6, 1], "nice": false},
    "axis": {"title": "|h(f; λ_g) − h_ref(f)|/max|h_ref(f)|",
     "values": [7e-6,8e-6,9e-6,1e-5,2e-5,3e-5,4e-5,5e-5,6e-5,7e-5,8e-5,9e-5,1e-4,2e-4,3e-4,4e-4,5e-4,6e-4,7e-4,8e-4,9e-4,1e-3,2e-3,3e-3,4e-3,5e-3,6e-3,7e-3,8e-3,9e-3,1e-2,2e-2,3e-2,4e-2,5e-2,6e-2,7e-2,8e-2,9e-2,0.1,0.2,0.3,0.4,0.5,0.6,0.7,0.8,0.9,1],
     "labelOverlap": false, "grid": true,
     "labelExpr": "abs(log(datum.value)/LN10-round(log(datum.value)/LN10))<0.01 ? '10' + ['⁰','⁻¹','⁻²','⁻³','⁻⁴','⁻⁵','⁻⁶'][round(-log(datum.value)/LN10)] : ''",
     "tickSize": {"condition": {"test": "abs(log(datum.value)/LN10-round(log(datum.value)/LN10))<0.01", "value": 4}, "value": 2},
     "gridColor": {"condition": {"test": "abs(log(datum.value)/LN10-round(log(datum.value)/LN10))<0.01", "value": "#d6d6d6"}, "value": "#e8e8e8"}}},
   "color": {"field": "name", "type": "nominal",
    "scale": {"domain": ["λ_g = 0.03", "λ_g = 0.06", "λ_g = 0.1", "λ_g = 0.15", "λ_g = 0.2", "λ_g = 0.25"], "range": ["#1f77b4", "#ff7f0e", "#2ca02c", "#d62728", "#9467bd", "#8c564b"]},
    "legend": {"orient": "top-right", "columns": 2, "title": null, "labelFont": "DejaVu Sans", "labelFontSize": 8.5, "labelColor": "#222", "symbolType": "stroke", "symbolSize": 300, "symbolStrokeWidth": 1.5, "columnPadding": 8, "rowPadding": 0, "offset": 8, "padding": 0, "labelOffset": 6, "labelLimit": 200}}
  }
 },
 {
  "width": 462, "height": 258,
  "title": {"text": "(c) AT+g relative to AT", "orient": "bottom", "font": "DejaVu Serif", "fontSize": 18, "fontWeight": "normal", "color": "#111", "offset": 30, "dx": -27},
  "data": {"name": "D"},
  "mark": {"type": "line", "strokeWidth": 2.4, "color": "#000000", "clip": true},
  "encoding": {
   "x": {"field": "f", "type": "quantitative", "scale": {"domain": [10, 500], "nice": false, "zero": false},
    "axis": {"title": "Frequency (Hz)", "values": [100, 200, 300, 400, 500], "grid": true, "gridColor": "#dddddd", "labelFlush": false}},
   "y": {"field": "c", "type": "quantitative", "scale": {"type": "log", "domain": [6.9e-5, 1], "nice": false},
    "axis": {"title": "|h_gmode(f) − h_main(f)|/max|h_main(f)|",
     "values": [7e-5,8e-5,9e-5,1e-4,2e-4,3e-4,4e-4,5e-4,6e-4,7e-4,8e-4,9e-4,1e-3,2e-3,3e-3,4e-3,5e-3,6e-3,7e-3,8e-3,9e-3,1e-2,2e-2,3e-2,4e-2,5e-2,6e-2,7e-2,8e-2,9e-2,0.1,0.2,0.3,0.4,0.5,0.6,0.7,0.8,0.9,1],
     "labelOverlap": false, "grid": true,
     "labelExpr": "abs(log(datum.value)/LN10-round(log(datum.value)/LN10))<0.01 ? '10' + ['⁰','⁻¹','⁻²','⁻³','⁻⁴','⁻⁵','⁻⁶'][round(-log(datum.value)/LN10)] : ''",
     "tickSize": {"condition": {"test": "abs(log(datum.value)/LN10-round(log(datum.value)/LN10))<0.01", "value": 4}, "value": 2},
     "gridColor": {"condition": {"test": "abs(log(datum.value)/LN10-round(log(datum.value)/LN10))<0.01", "value": "#d6d6d6"}, "value": "#e8e8e8"}}}
  }
 }
]
}
